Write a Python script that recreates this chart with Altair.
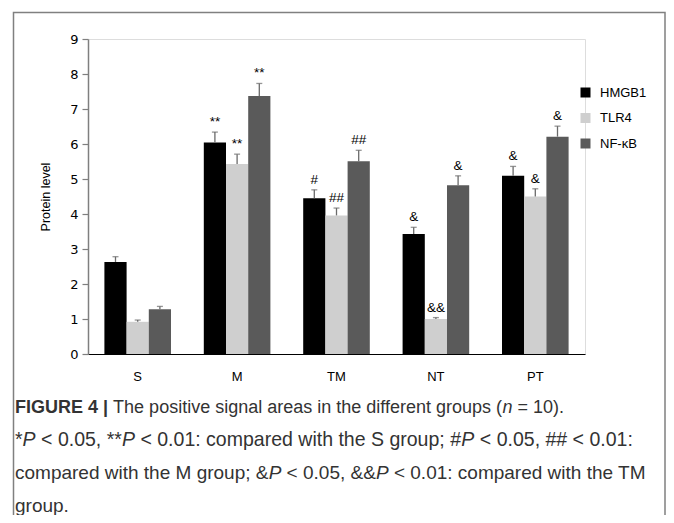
import altair as alt
import pandas as pd

# ---------------- data ----------------
groups = ["S", "M", "TM", "NT", "PT"]
proteins = ["HMGB1", "TLR4", "NF-κB"]
colors = ["#000000", "#cfcfcf", "#5a5a5a"]

hmgb1 = [2.63, 6.04, 4.45, 3.43, 5.09]
hmgb1_err = [0.15, 0.30, 0.24, 0.19, 0.27]
tlr4 = [0.92, 5.43, 3.96, 1.00, 4.50]
tlr4_err = [0.05, 0.28, 0.21, 0.04, 0.22]
nfkb = [1.28, 7.37, 5.51, 4.82, 6.21]
nfkb_err = [0.08, 0.36, 0.31, 0.27, 0.30]

hmgb1_sig = ["", "**", "#", "&", "&"]
tlr4_sig = ["", "**", "##", "&&", "&"]
nfkb_sig = ["", "**", "##", "&", "&"]

y_ticks = [0, 1, 2, 3, 4, 5, 6, 7, 8, 9]

caption_lines = [
    [("FIGURE 4 | ", "b"), ("The positive signal areas in the different groups (", "n"), ("n", "i"), (" = 10).", "n")],
    [("*", "n"), ("P", "i"), (" < 0.05, **", "n"), ("P", "i"), (" < 0.01: compared with the S group; #", "n"),
     ("P", "i"), (" < 0.05, ## < 0.01:", "n")],
    [("compared with the M group; &", "n"), ("P", "i"), (" < 0.05, &&", "n"), ("P", "i"),
     (" < 0.01: compared with the TM", "n")],
    [("group.", "n")],
]

rows = []
for p, vals, errs, sigs in [
    ("HMGB1", hmgb1, hmgb1_err, hmgb1_sig),
    ("TLR4", tlr4, tlr4_err, tlr4_sig),
    ("NF-κB", nfkb, nfkb_err, nfkb_sig),
]:
    for g, v, e, s in zip(groups, vals, errs, sigs):
        rows.append({"group": g, "protein": p, "value": v, "upper": v + e, "sig": s})
df = pd.DataFrame(rows)

# ---------------- layout constants ----------------
PL, PT_, W, H = 80, 31, 497, 315
SVG_W, SVG_H = 658, 507
OX, OY = 8 + PL, 8 + PT_   # page position of plot origin

# Arial / Liberation Sans advance widths (per 1000 em)
AW = {" ": 278, "#": 556, "&": 667, "(": 333, ")": 333, "*": 389, ",": 278, "-": 333, ".": 278,
      ":": 278, ";": 278, "<": 584, "=": 584, "|": 260}
for c in "0123456789":
    AW[c] = 556
for c, w in zip("ABCDEFGHIJKLMNOPQRSTUVWXYZ",
                [667, 667, 722, 722, 667, 611, 778, 722, 278, 500, 667, 556, 833, 722, 778, 667, 778, 722, 667,
                 611, 722, 667, 944, 667, 667, 611]):
    AW[c] = w
for c, w in zip("abcdefghijklmnopqrstuvwxyz",
                [556, 556, 500, 556, 556, 278, 556, 556, 222, 222, 500, 222, 833, 556, 556, 556, 556, 333, 500,
                 278, 556, 500, 722, 500, 500, 500]):
    AW[c] = w
BW = dict(AW)
BW.update({"|": 280, "F": 611, "I": 278, "G": 778, "U": 722, "R": 722, "E": 667})


def seg_w(text, style):
    tab = BW if style == "b" else AW
    return sum(tab.get(c, 556) for c in text) / 1000.0


CAP_X0 = 15
cap_line_ends = [564, 633, 646, None]
cap_baselines = [413, 446, 479, 512]

cap_rows = []
for li, segs in enumerate(caption_lines):
    em = sum(seg_w(t, s) for t, s in segs)
    fs = (cap_line_ends[li] - CAP_X0) / em if cap_line_ends[li] else 19.0
    x = CAP_X0
    for t, s in segs:
        lead = len(t) - len(t.lstrip(" "))
        xs = x + seg_w(t[:lead], s) * fs
        body = t.strip(" ")
        if body:
            cap_rows.append({"x": xs - OX, "y": cap_baselines[li] - OY, "text": body, "style": s, "fs": fs})
        x += seg_w(t, s) * fs
cap = pd.DataFrame(cap_rows)

# ---------------- chart ----------------
y_axis = alt.Axis(values=y_ticks, grid=False, domainColor="#7f7f7f", domainWidth=1.5,
                  tickColor="#7f7f7f", tickSize=6, tickWidth=1.2, labelOverlap=False,
                  labelFont="DejaVu Sans", labelFontSize=13, labelColor="#000000", labelPadding=4,
                  title="Protein level", titleFont="Liberation Sans", titleFontSize=12.5,
                  titleFontWeight="normal", titleColor="#000000", titlePadding=17)
y_scale = alt.Scale(domain=[0, 9], nice=False)

x_axis = alt.Axis(title=None, labelAngle=0, ticks=False, domainColor="#000000", domainWidth=1.2,
                  labelFont="Liberation Sans", labelFontSize=13, labelColor="#000000", labelPadding=16)
x_scale = alt.Scale(paddingInner=0.33, paddingOuter=0.165)


def xe():
    return alt.X("group:N", sort=groups, scale=x_scale, axis=x_axis)


def xo():
    return alt.XOffset("protein:N", sort=proteins, scale=alt.Scale(paddingInner=0, paddingOuter=0))


base = alt.Chart(df)

bars = base.mark_bar().encode(
    x=xe(), xOffset=xo(),
    y=alt.Y("value:Q", scale=y_scale, axis=y_axis),
    color=alt.Color("protein:N", sort=proteins, scale=alt.Scale(domain=proteins, range=colors),
                    legend=alt.Legend(orient="none", legendX=491, legendY=47, title=None,
                                      symbolType="square", symbolSize=100, symbolStrokeWidth=0,
                                      labelFont="Liberation Sans", labelFontSize=13, labelColor="#000000",
                                      labelOffset=8, rowPadding=11.5, padding=0)),
)

err = base.mark_rule(color="#6a6a6a", strokeWidth=1.3).encode(
    x=xe(), xOffset=xo(),
    y=alt.Y("value:Q", scale=y_scale, axis=y_axis), y2="upper:Q")

caps = base.mark_tick(color="#6a6a6a", thickness=1.3, size=6).encode(
    x=xe(), xOffset=xo(),
    y=alt.Y("upper:Q", scale=y_scale, axis=y_axis))

sig = base.mark_text(baseline="bottom", dy=-3, font="Liberation Sans", fontSize=13.5, color="#000000").encode(
    x=xe(), xOffset=xo(),
    y=alt.Y("upper:Q", scale=y_scale, axis=y_axis), text="sig:N")

frame = alt.Chart(pd.DataFrame({"k": [0]})).mark_rect(
    fillOpacity=0, stroke="#808080", strokeWidth=1.5).encode(
    x=alt.value(13.5 - OX), x2=alt.value(SVG_W + 8 - 1 - OX), y=alt.value(12.5 - OY), y2=alt.value(600))


def cap_layer(style, **kw):
    return alt.Chart(cap[cap["style"] == style]).mark_text(
        align="left", baseline="alphabetic", font="Liberation Sans", color="#333333",
        **kw).encode(x=alt.X("x:Q", scale=None), y=alt.Y("y:Q", scale=None), text="text:N",
                     size=alt.Size("fs:Q", scale=None, legend=None))


cap_n = cap_layer("n")
cap_b = cap_layer("b", fontWeight="bold")
cap_i = cap_layer("i", fontStyle="italic")

chart = alt.layer(frame, bars, err, caps, sig, cap_n, cap_b, cap_i).properties(
    width=W, height=H,
    autosize=alt.AutoSizeParams(type="none"),
    padding={"left": PL, "top": PT_, "right": SVG_W - PL - W, "bottom": SVG_H - PT_ - H},
).configure_view(stroke=None).configure(background="#ffffff")

chart.save("out.html", embed_options={"renderer": "svg", "actions": False})
